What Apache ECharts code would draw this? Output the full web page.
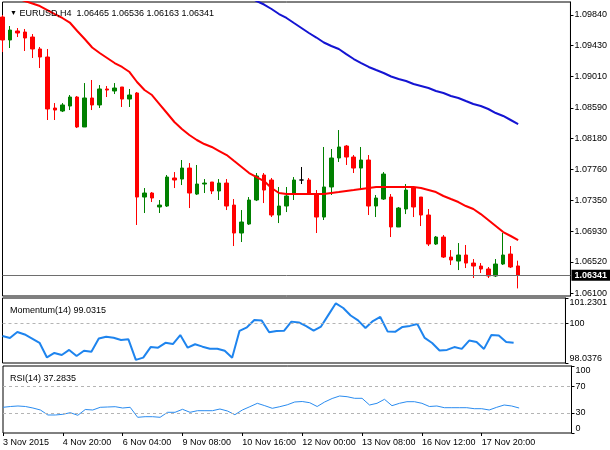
<!DOCTYPE html>
<html><head><meta charset="utf-8">
<script src="https://cdn.jsdelivr.net/npm/echarts@6/dist/echarts.min.js"></script>
<style>html,body{margin:0;padding:0;background:#fff}#c{width:610px;height:450px}</style>
</head><body><div id="c"></div>
<script>
const categories = ['2015.11.03 12:00','2015.11.03 16:00','2015.11.03 20:00','2015.11.04 00:00','2015.11.04 04:00','2015.11.04 08:00','2015.11.04 12:00','2015.11.04 16:00',
'2015.11.04 20:00','2015.11.05 00:00','2015.11.05 04:00','2015.11.05 08:00','2015.11.05 12:00','2015.11.05 16:00','2015.11.05 20:00','2015.11.06 00:00',
'2015.11.06 04:00','2015.11.06 08:00','2015.11.06 12:00','2015.11.06 16:00','2015.11.06 20:00','2015.11.08 20:00','2015.11.09 00:00','2015.11.09 04:00',
'2015.11.09 08:00','2015.11.09 12:00','2015.11.09 16:00','2015.11.09 20:00','2015.11.10 00:00','2015.11.10 04:00','2015.11.10 08:00','2015.11.10 12:00',
'2015.11.10 16:00','2015.11.10 20:00','2015.11.11 00:00','2015.11.11 04:00','2015.11.11 08:00','2015.11.11 12:00','2015.11.11 16:00','2015.11.11 20:00',
'2015.11.12 00:00','2015.11.12 04:00','2015.11.12 08:00','2015.11.12 12:00','2015.11.12 16:00','2015.11.12 20:00','2015.11.13 00:00','2015.11.13 04:00',
'2015.11.13 08:00','2015.11.13 12:00','2015.11.13 16:00','2015.11.13 20:00','2015.11.15 20:00','2015.11.16 00:00','2015.11.16 04:00','2015.11.16 08:00',
'2015.11.16 12:00','2015.11.16 16:00','2015.11.16 20:00','2015.11.17 00:00','2015.11.17 04:00','2015.11.17 08:00','2015.11.17 12:00','2015.11.17 16:00',
'2015.11.17 20:00','2015.11.18 00:00','2015.11.18 04:00','2015.11.18 08:00','2015.11.18 12:00','2015.11.18 16:00'];

const timeTickLabels = ['3 Nov 2015','4 Nov 20:00','6 Nov 04:00','9 Nov 08:00','10 Nov 16:00','12 Nov 00:00','13 Nov 08:00','16 Nov 12:00','17 Nov 20:00'];

// [open, close, low, high]
const ohlc = [
[1.09813,1.09504,1.09342,1.09840],[1.09504,1.09638,1.09396,1.09692],[1.09625,1.09598,1.09544,1.09665],[1.09611,1.09531,1.09356,1.09652],
[1.09544,1.09383,1.09262,1.09584],[1.09383,1.09275,1.09127,1.09410],[1.09275,1.08576,1.08428,1.09383],[1.08589,1.08562,1.08428,1.08656],
[1.08549,1.08630,1.08535,1.08656],[1.08616,1.08737,1.08562,1.08764],[1.08737,1.08334,1.08320,1.08751],[1.08334,1.08724,1.08334,1.08925],
[1.08724,1.08630,1.08562,1.08966],[1.08630,1.08845,1.08589,1.08898],[1.08845,1.08831,1.08737,1.08885],[1.08818,1.08858,1.08777,1.08925],
[1.08872,1.08710,1.08603,1.08872],[1.08710,1.08764,1.08603,1.08845],[1.08791,1.07392,1.07016,1.08804],[1.07392,1.07446,1.07177,1.07513],
[1.07446,1.07379,1.07325,1.07459],[1.07258,1.07284,1.07177,1.07352],[1.07271,1.07661,1.07258,1.07688],[1.07648,1.07621,1.07513,1.07728],
[1.07634,1.07782,1.07553,1.07890],[1.07782,1.07446,1.07244,1.07849],[1.07432,1.07567,1.07419,1.07823],[1.07567,1.07580,1.07446,1.07634],
[1.07594,1.07473,1.07432,1.07594],[1.07473,1.07580,1.07352,1.07634],[1.07580,1.07271,1.07217,1.07634],[1.07284,1.06908,1.06733,1.07365],
[1.06908,1.07056,1.06787,1.07217],[1.07029,1.07352,1.07016,1.07392],[1.07352,1.07675,1.07338,1.07715],[1.07688,1.07486,1.07311,1.07715],
[1.07621,1.07150,1.07123,1.07648],[1.07150,1.07271,1.07042,1.07527],[1.07271,1.07406,1.07190,1.07527],[1.07432,1.07621,1.07352,1.07661],
[1.07621,1.07621,1.07567,1.07796],[1.07621,1.07446,1.07432,1.07648],[1.07419,1.07123,1.06908,1.07486],[1.07123,1.07527,1.07083,1.08065],
[1.07527,1.07917,1.07419,1.08038],[1.07917,1.08065,1.07863,1.08293],[1.08078,1.07930,1.07823,1.08092],[1.07930,1.07782,1.07715,1.07957],
[1.07782,1.07890,1.07486,1.08065],[1.07890,1.07271,1.07150,1.07957],[1.07271,1.07379,1.07123,1.07419],[1.07365,1.07701,1.07352,1.07728],
[1.07392,1.06989,1.06854,1.07432],[1.06989,1.07244,1.06989,1.07258],[1.07231,1.07486,1.07163,1.07567],[1.07513,1.07258,1.07123,1.07527],
[1.07392,1.07150,1.07002,1.07392],[1.07150,1.06760,1.06733,1.07231],[1.06760,1.06854,1.06747,1.06868],[1.06854,1.06585,1.06572,1.06881],
[1.06585,1.06545,1.06478,1.06679],[1.06531,1.06612,1.06410,1.06773],[1.06612,1.06504,1.06437,1.06747],[1.06504,1.06464,1.06303,1.06558],
[1.06464,1.06424,1.06370,1.06504],[1.06424,1.06330,1.06303,1.06451],[1.06330,1.06491,1.06316,1.06558],[1.06491,1.06612,1.06478,1.06908],
[1.06625,1.06451,1.06437,1.06733],[1.06465,1.06341,1.06163,1.06536]
];

const maFast = [1.10122,1.10096,1.10062,1.10028,1.09995,1.09961,1.09907,1.09853,1.09800,1.09739,
1.09625,1.09517,1.09403,1.09329,1.09262,1.09194,1.09141,1.09073,1.08939,1.08831,
1.08764,1.08643,1.08522,1.08401,1.08307,1.08226,1.08159,1.08105,1.08065,1.08011,
1.07957,1.07876,1.07796,1.07715,1.07661,1.07607,1.07513,1.07446,1.07432,1.07432,
1.07432,1.07432,1.07432,1.07432,1.07446,1.07459,1.07473,1.07486,1.07500,1.07513,
1.07527,1.07527,1.07527,1.07527,1.07527,1.07527,1.07513,1.07486,1.07459,1.07406,
1.07365,1.07325,1.07271,1.07231,1.07163,1.07083,1.07002,1.06921,1.06868,1.06814];

const maSlow = [null,null,null,null,null,null,null,null,null,null,
null,null,null,null,null,null,null,null,null,null,
null,null,null,null,null,null,null,null,null,null,
null,null,null,1.10082,1.10028,1.09981,1.09921,1.09853,1.09800,1.09732,
1.09665,1.09598,1.09537,1.09470,1.09423,1.09383,1.09315,1.09248,1.09194,1.09141,
1.09100,1.09060,1.09013,1.08979,1.08952,1.08912,1.08885,1.08858,1.08818,1.08791,
1.08751,1.08724,1.08683,1.08643,1.08616,1.08576,1.08522,1.08482,1.08428,1.08374];

const momentum = [99.36,99.27,99.56,99.44,99.24,99.03,98.31,98.53,98.43,98.68,
98.38,98.64,98.59,99.24,99.33,99.28,99.17,99.20,98.19,98.30,
98.82,98.79,99.03,98.97,99.41,98.79,98.96,98.84,98.74,98.74,
98.64,98.30,99.62,99.79,100.15,100.12,99.55,99.61,99.62,100.07,
100.03,99.85,99.63,99.83,100.40,100.97,100.74,100.37,100.13,99.76,
100.10,100.30,99.58,99.57,99.81,99.86,99.95,99.27,99.02,98.65,
98.68,98.82,98.73,99.14,99.07,98.73,99.41,99.39,99.07,99.0315];

const rsi = [38.36,39.55,40.30,39.55,37.31,34.33,26.87,26.87,27.91,30.30,
26.42,35.07,34.33,38.36,38.81,39.25,37.31,38.36,23.43,24.33,
24.33,23.43,30.90,30.90,35.37,30.90,33.28,33.28,33.28,35.82,
32.84,27.31,34.33,39.25,44.33,40.75,36.87,39.25,42.09,46.27,
47.01,45.22,39.55,46.27,51.49,55.22,54.18,51.79,51.79,41.79,
44.33,50.30,40.75,44.33,46.72,46.72,44.33,39.55,40.30,37.76,
37.76,37.76,37.76,36.27,36.27,34.33,38.36,41.79,40.30,37.2835];

const priceTicks = [1.06100,1.06520,1.06930,1.07350,1.07760,1.08180,1.08590,1.09010,1.09430,1.09840];
const momentumTicks = [98.0376,100,101.2301];
const rsiTicks = [0,30,70,100];
const lastPrice = 1.06341;
const headerText = 'EURUSD,H4  1.06465 1.06536 1.06163 1.06341';
const momentumText = 'Momentum(14) 99.0315';
const rsiText = 'RSI(14) 37.2835';

const FONT = 'Liberation Sans';
const xData = categories.concat(['','','','','','','']);
const nBars = categories.length;
const L = 2.5, W = 569;
const chart = echarts.init(document.getElementById('c'));
const lab = {color:'#000', fontSize:9, fontFamily:FONT};
const showTick = (idx) => idx % 8 === 0 && idx < nBars;
function xa(i, last){
  return {type:'category', gridIndex:i, data:xData, boundaryGap:false,
    axisLine:{show:false}, splitLine:{show:false},
    axisTick: last ? {show:true, interval:showTick, length:3, lineStyle:{color:'#000'}} : {show:false},
    axisLabel: last ? Object.assign({show:true, interval:showTick, align:'left', margin:5,
      formatter:(v,idx)=> timeTickLabels[idx/8] || ''}, lab) : {show:false}};
}
function ya(i, min, max, ticks, fmt){
  return {type:'value', gridIndex:i, position:'right', min:min, max:max,
    axisLine:{show:true, lineStyle:{color:'#000'}},
    axisTick:{show:true, length:3, customValues:ticks, lineStyle:{color:'#000'}},
    splitLine:{show:false},
    axisLabel:Object.assign({margin:4, customValues:ticks, formatter:fmt,
      verticalAlignMaxLabel: i>0 ? 'top' : null, verticalAlignMinLabel: i>0 ? 'bottom' : null}, lab)};
}
const border = {show:true, borderColor:'#000', borderWidth:1, backgroundColor:'#fff'};
chart.setOption({
  animation:false,
  backgroundColor:'#fff',
  title:[
    {text:'{t|▼} ' + headerText, left:5, top:4, textStyle:{fontSize:9, fontWeight:'normal', color:'#000', fontFamily:FONT, rich:{t:{fontSize:7, color:'#000'}}}},
    {text:momentumText, left:5, top:301, textStyle:{fontSize:9, fontWeight:'normal', color:'#000', fontFamily:FONT}},
    {text:rsiText, left:5, top:369, textStyle:{fontSize:9, fontWeight:'normal', color:'#000', fontFamily:FONT}}
  ],
  grid:[
    Object.assign({left:L, width:W, top:2, height:294}, border),
    Object.assign({left:L, width:W, top:298, height:65}, border),
    Object.assign({left:L, width:W, top:366, height:67}, border)
  ],
  xAxis:[xa(0,false), xa(1,false), xa(2,true)],
  yAxis:[
    ya(0, 1.06061, 1.10015, priceTicks, v=>Number(v).toFixed(5)),
    ya(1, 98.0376, 101.2301, momentumTicks, v=>String(v)),
    ya(2, 0, 100, rsiTicks, v=>String(v))
  ],
  series:[
    {type:'candlestick', xAxisIndex:0, yAxisIndex:0, data:ohlc, barWidth:4, z:2,
      itemStyle:{color:'#008000', color0:'#ff0000', borderColor:'#008000', borderColor0:'#ff0000', borderColorDoji:'#000', borderWidth:1},
      markLine:{silent:true, precision:5, symbol:['none','none'],
        lineStyle:{color:'#6e6e6e', type:'solid', width:1},
        label:{show:true, position:'end', distance:1, formatter:()=>lastPrice.toFixed(5), backgroundColor:'#000', color:'#fff', fontSize:9, fontWeight:'bold', fontFamily:FONT, padding:[1,3,0,3], lineHeight:10},
        data:[{yAxis:lastPrice}]}},
    {type:'line', xAxisIndex:0, yAxisIndex:0, data:maFast, symbol:'none', lineStyle:{color:'#ff0000', width:2}, z:3},
    {type:'line', xAxisIndex:0, yAxisIndex:0, data:maSlow, symbol:'none', lineStyle:{color:'#1414d2', width:2}, z:3},
    {type:'line', xAxisIndex:1, yAxisIndex:1, data:momentum, symbol:'none', lineStyle:{color:'#1e84ee', width:2},
      markLine:{silent:true, symbol:['none','none'], label:{show:false}, lineStyle:{color:'#b4b4b4', type:[3,3], width:1}, data:[{yAxis:100}]}},
    {type:'line', xAxisIndex:2, yAxisIndex:2, data:rsi, symbol:'none', lineStyle:{color:'#2a8cf0', width:1},
      markLine:{silent:true, symbol:['none','none'], label:{show:false}, lineStyle:{color:'#b4b4b4', type:[3,3], width:1}, data:[{yAxis:70},{yAxis:30}]}}
  ]
});
</script></body></html>
